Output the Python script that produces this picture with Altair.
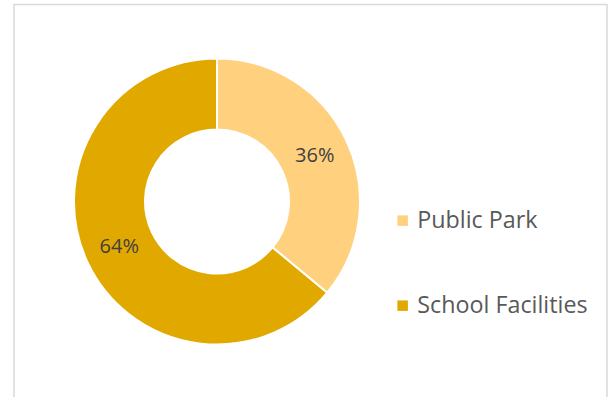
import altair as alt
import pandas as pd

categories = ["Public Park", "School Facilities"]
values = [36, 64]
labels = ["36%", "64%"]
colors = ["#FFD17F", "#E1A900"]

df = pd.DataFrame({"category": categories, "value": values, "label": labels, "order": [0, 1]})

color_scale = alt.Scale(domain=categories, range=colors)

border = alt.Chart(pd.DataFrame({"a": [0]})).mark_rect(
    fill="white", stroke="#D9D9D9", strokeWidth=1.5
).encode(x=alt.value(14), x2=alt.value(607), y=alt.value(4.5), y2=alt.value(420))

base = alt.Chart(df).encode(
    theta=alt.Theta("value:Q", stack=True),
    order=alt.Order("order:Q"),
)

arcs = base.mark_arc(innerRadius=72, outerRadius=143, stroke="white", strokeWidth=2).encode(
    color=alt.Color(
        "category:N",
        scale=color_scale,
        sort=categories,
        legend=alt.Legend(
            title=None,
            orient="none",
            legendX=391,
            legendY=209,
            symbolType="square",
            symbolSize=110,
            symbolStrokeWidth=0,
            labelFontSize=23.3,
            labelFont="Open Sans",
            labelColor="#595959",
            labelOffset=3,
            rowPadding=61,
            labelLimit=300,
        ),
    ),
    x=alt.value(217),
    y=alt.value(201.5),
)

text = base.mark_text(radius=108, fontSize=20, font="Open Sans", color="#404040").encode(
    text="label:N",
    x=alt.value(217),
    y=alt.value(201.5),
)

chart = alt.layer(border, arcs, text).properties(
    width=610, height=397, padding=0, autosize=alt.AutoSizeParams(type="none")
).configure_view(stroke=None)

chart.save("out.html", embed_options={"renderer": "svg", "actions": False})
